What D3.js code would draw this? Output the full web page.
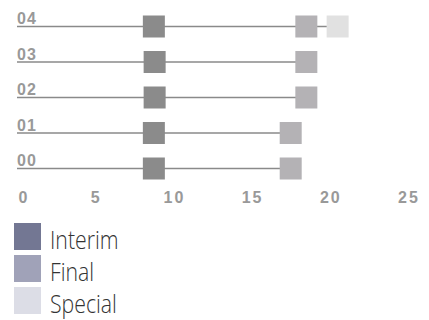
<!DOCTYPE html>
<html>
<head>
<meta charset="utf-8">
<script src="https://cdn.jsdelivr.net/npm/d3@7"></script>
<style>
  body { margin: 0; background: #fff; }
  svg { display: block; }
</style>
</head>
<body>
<svg id="chart" width="429" height="320"></svg>
<script>
// data
const rows = ["00", "01", "02", "03", "04"];
const interim = [8.75, 8.75, 8.8, 8.8, 8.75];
const finalV = [17.5, 17.5, 18.5, 18.5, 18.5];
const special = [null, null, null, null, 20.5];
const xTicks = [0, 5, 10, 15, 20, 25];
const legendNames = ["Interim", "Final", "Special"];
const legendColors = ["#737793", "#a0a2b8", "#dcdde6"];
const markColors = ["#8b8b8b", "#b4b2b5", "#e1e1e1"];

const svg = d3.select("#chart");

const x = d3.scaleLinear().domain([0, 25]).range([17, 408]);
const y = d3.scalePoint().domain(rows).range([168.5, 26.5]);

const size = 22;

// 1) row lines + labels
const rowG = svg.append("g").attr("class", "rows");
rows.forEach((r, i) => {
  const end = Math.max(finalV[i], special[i] || 0);
  rowG.append("line")
    .attr("x1", x(0))
    .attr("x2", x(end))
    .attr("y1", y(r))
    .attr("y2", y(r))
    .attr("stroke", "#8a8a8a")
    .attr("stroke-width", 1.5);

  rowG.append("text")
    .attr("x", x(0))
    .attr("y", y(r) - 2.5)
    .attr("font-family", "Liberation Sans, Arial, sans-serif")
    .attr("font-weight", "bold")
    .attr("font-size", 16)
    .attr("letter-spacing", 1)
    .attr("fill", "#999")
    .text(r);
});

// 2) markers
const series = [interim, finalV, special];
series.forEach((vals, s) => {
  svg.append("g")
    .selectAll("rect")
    .data(rows.map((r, i) => ({ r, v: vals[i] })).filter(d => d.v != null))
    .enter()
    .append("rect")
    .attr("x", d => x(d.v) - size / 2)
    .attr("y", d => y(d.r) - size / 2)
    .attr("width", size)
    .attr("height", size)
    .attr("fill", markColors[s]);
});

// 3) x tick labels (letter-spacing adds a trailing gap, shift by half of it)
svg.append("g")
  .selectAll("text")
  .data(xTicks)
  .enter()
  .append("text")
  .attr("x", d => (d === 0 ? x(d) + 6 : x(d)) + 1)
  .attr("y", 202.5)
  .attr("text-anchor", "middle")
  .attr("font-family", "Liberation Sans, Arial, sans-serif")
  .attr("font-weight", "bold")
  .attr("font-size", 16)
  .attr("letter-spacing", 2)
  .attr("fill", "#999")
  .text(d => d);

// 4) legend (narrow light face: squeeze text horizontally)
const lg = svg.append("g").attr("class", "legend");
legendNames.forEach((name, i) => {
  const ly = 223 + i * 32;
  lg.append("rect")
    .attr("x", 14)
    .attr("y", ly)
    .attr("width", 27)
    .attr("height", 27)
    .attr("fill", legendColors[i]);
  lg.append("text")
    .attr("transform", `translate(50,${ly + 26.3}) scale(0.85,1)`)
    .attr("font-family", "Open Sans, sans-serif")
    .attr("font-weight", 300)
    .attr("font-size", 25)
    .attr("fill", "#333")
    .text(name);
});
</script>
</body>
</html>
